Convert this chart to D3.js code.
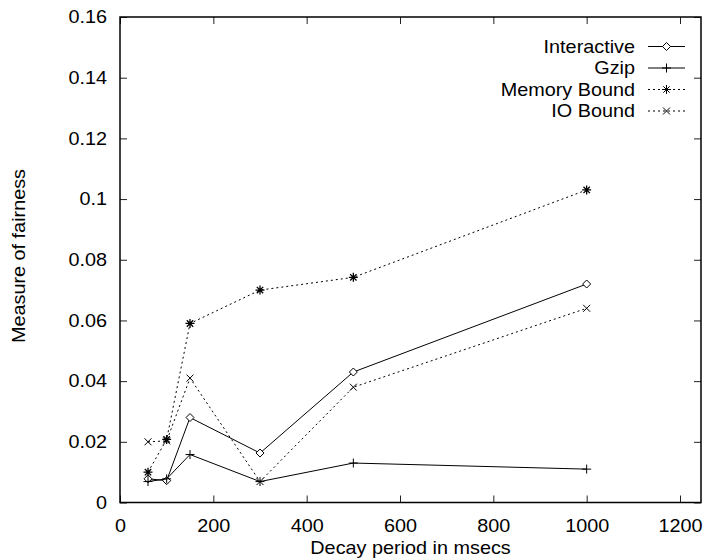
<!DOCTYPE html>
<html>
<head>
<meta charset="utf-8">
<script src="https://cdn.jsdelivr.net/npm/d3@7"></script>
<style>
  body { margin: 0; background: #fff; }
  svg { display: block; }
</style>
</head>
<body>
<div id="plot"></div>
<script>
// data
var decayPeriods = [60, 100, 150, 300, 500, 1000];
var interactive = [0.0078, 0.0072, 0.028, 0.0163, 0.043, 0.072];
var gzip = [0.0069, 0.0078, 0.0158, 0.0069, 0.013, 0.011];
var memoryBound = [0.010, 0.0208, 0.059, 0.070, 0.0742, 0.103];
var ioBound = [0.020, 0.0203, 0.041, 0.0069, 0.038, 0.064];
var seriesNames = ["Interactive", "Gzip", "Memory Bound", "IO Bound"];
var xTicks = [0, 200, 400, 600, 800, 1000, 1200];
var yTicks = [0, 0.02, 0.04, 0.06, 0.08, 0.1, 0.12, 0.14, 0.16];

var svgWidth = 709, svgHeight = 560;
var margin = { top: 17, right: 8, bottom: 57.5, left: 120 };
var width = svgWidth - margin.left - margin.right;
var height = svgHeight - margin.top - margin.bottom;
var stretch = 1.12; // the text in the picture is set wide
var fontSize = "17.7px";
var font = "'Liberation Sans', Arial, Helvetica, sans-serif";

var svg = d3.select("#plot").append("svg")
    .attr("width", svgWidth)
    .attr("height", svgHeight);

var chartGroup = svg.append("g")
    .attr("transform", `translate(${margin.left}, ${margin.top})`);

var xScale = d3.scaleLinear().domain([0, 1245]).range([0, width]);
var yScale = d3.scaleLinear().domain([0, 0.16]).range([height, 0]);

// axes, ticks pointing inward
function styleAxis(g) {
    g.select(".domain").remove();
    g.selectAll(".tick line").attr("stroke", "#222").attr("stroke-width", 1);
    g.selectAll(".tick text")
        .attr("fill", "#000")
        .style("font-family", font)
        .style("font-size", fontSize);
}

chartGroup.append("g")
    .call(d3.axisLeft(yScale).tickValues(yTicks).tickSize(-7).tickPadding(13)
        .tickFormat(d3.format("~g")))
    .call(styleAxis)
    .call(g => g.selectAll(".tick text")
        .attr("x", -13 / stretch)
        .attr("transform", `scale(${stretch},1)`));

chartGroup.append("g")
    .attr("transform", `translate(0, ${height})`)
    .call(d3.axisBottom(xScale).tickValues(xTicks).tickSize(-7).tickPadding(17)
        .tickFormat(d3.format("d")))
    .call(styleAxis)
    .call(g => g.selectAll(".tick text").attr("transform", `scale(${stretch},1)`));

// mirror ticks
chartGroup.append("g")
    .attr("transform", `translate(${width}, 0)`)
    .call(d3.axisRight(yScale).tickValues(yTicks).tickSize(-7).tickFormat(""))
    .call(styleAxis);

chartGroup.append("g")
    .call(d3.axisTop(xScale).tickValues(xTicks).tickSize(-7).tickFormat(""))
    .call(styleAxis);

chartGroup.append("rect")
    .attr("width", width)
    .attr("height", height)
    .attr("fill", "none")
    .attr("stroke", "#000")
    .attr("stroke-width", 1.5);

// marker shapes
function markerPath(kind) {
    var p = d3.path();
    if (kind === "diamond") {
        var r = 4;
        p.moveTo(0, -r); p.lineTo(r, 0); p.lineTo(0, r); p.lineTo(-r, 0); p.closePath();
    } else if (kind === "plus") {
        var r = 4.5;
        p.moveTo(-r, 0); p.lineTo(r, 0); p.moveTo(0, -r); p.lineTo(0, r);
    } else if (kind === "cross") {
        var r = 3.5;
        p.moveTo(-r, -r); p.lineTo(r, r); p.moveTo(-r, r); p.lineTo(r, -r);
    } else {
        var r = 4.5, q = 3.2;
        p.moveTo(-r, 0); p.lineTo(r, 0); p.moveTo(0, -r); p.lineTo(0, r);
        p.moveTo(-q, -q); p.lineTo(q, q); p.moveTo(-q, q); p.lineTo(q, -q);
    }
    return p.toString();
}

var series = [
    { name: seriesNames[0], values: interactive, dash: null, marker: "diamond" },
    { name: seriesNames[1], values: gzip, dash: null, marker: "plus" },
    { name: seriesNames[2], values: memoryBound, dash: "2,3", marker: "star" },
    { name: seriesNames[3], values: ioBound, dash: "2,3", marker: "cross" }
];

var line = d3.line()
    .x((d, i) => xScale(decayPeriods[i]))
    .y(d => yScale(d));

series.forEach(function (s) {
    chartGroup.append("path")
        .attr("d", line(s.values))
        .attr("fill", "none")
        .attr("stroke", "#000")
        .attr("stroke-width", 1)
        .attr("stroke-dasharray", s.dash);

    chartGroup.selectAll(null)
        .data(s.values)
        .enter()
        .append("path")
        .attr("transform", (d, i) => `translate(${xScale(decayPeriods[i])}, ${yScale(d)})`)
        .attr("d", markerPath(s.marker))
        .attr("fill", s.marker === "diamond" ? "#fff" : "none")
        .attr("stroke", "#000")
        .attr("stroke-width", s.marker === "star" ? 1.3 : 1);
});

// legend
var legend = svg.append("g");
series.forEach(function (s, i) {
    var cy = 46.5 + i * 21.5;
    legend.append("g")
        .attr("transform", `translate(635, ${cy + 6})`)
        .append("text")
        .attr("transform", `scale(${stretch},1)`)
        .attr("text-anchor", "end")
        .style("font-family", font)
        .style("font-size", fontSize)
        .text(s.name);
    legend.append("line")
        .attr("x1", 648).attr("x2", 685)
        .attr("y1", cy).attr("y2", cy)
        .attr("stroke", "#000")
        .attr("stroke-dasharray", s.dash);
    legend.append("path")
        .attr("transform", `translate(666.5, ${cy})`)
        .attr("d", markerPath(s.marker))
        .attr("fill", s.marker === "diamond" ? "#fff" : "none")
        .attr("stroke", "#000");
});

// axis titles
svg.append("g")
    .attr("transform", `translate(${margin.left + width / 2}, 554)`)
    .append("text")
    .attr("transform", `scale(${stretch},1)`)
    .attr("text-anchor", "middle")
    .style("font-family", font)
    .style("font-size", fontSize)
    .text("Decay period in msecs");

svg.append("g")
    .attr("transform", `translate(25, 256) rotate(-90)`)
    .append("text")
    .attr("transform", `scale(${stretch},1)`)
    .attr("text-anchor", "middle")
    .style("font-family", font)
    .style("font-size", fontSize)
    .text("Measure of fairness");
</script>
</body>
</html>
